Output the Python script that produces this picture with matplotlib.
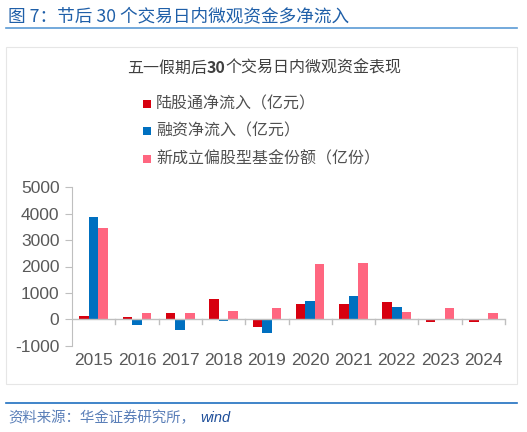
import matplotlib
matplotlib.use("Agg")
import matplotlib.pyplot as plt
import numpy as np
from matplotlib.patches import Rectangle
from matplotlib.lines import Line2D

years = ["2015", "2016", "2017", "2018", "2019", "2020", "2021", "2022", "2023", "2024"]
northbound = [125, 70, 230, 760, -280, 580, 580, 665, -90, -115]
margin = [3890, -215, -400, -80, -505, 705, 895, 455, -30, 10]
new_funds = [3455, 227, 227, 303, 428, 2085, 2120, 277, 440, 253]
series_names = ["陆股通净流入（亿元）", "融资净流入（亿元）", "新成立偏股型基金份额（亿份）"]
colors = ["#d7000f", "#0070c0", "#ff6680"]
yticks = [-1000, 0, 1000, 2000, 3000, 4000, 5000]

CJK = ["Noto Sans CJK SC", "DejaVu Sans"]
plt.rcParams['font.family'] = CJK

W, H = 527, 432
fig = plt.figure(figsize=(W / 100, H / 100), dpi=100)

def fx(px):
    return px / W

def fy(py):
    return 1 - py / H

# header title
fig.text(fx(8), fy(16), "图 7：节后 30 个交易日内微观资金多净流入", fontsize=12.7,
         color="#1f5fa8", va="center", ha="left", family=CJK)
fig.add_artist(Line2D([fx(6), fx(517)], [fy(28), fy(28)], color="#5b9bd5", lw=1.2))
# chart frame
fig.add_artist(Rectangle((fx(6), fy(384)), fx(511), fy(47) - fy(384), fill=False,
                         edgecolor="#e6e6e6", lw=0.8))
# bottom rule
fig.add_artist(Line2D([fx(6), fx(517)], [fy(403), fy(403)], color="#1f6fc0", lw=1.2))
fig.text(fx(8), fy(418), "资料来源：华金证券研究所，", fontsize=10.4, style="italic",
         color="#5a7fb8", va="center", ha="left", family=CJK)
fig.text(fx(200), fy(418), "wind", fontsize=10.5, style="italic",
         color="#1f4f9a", va="center", ha="left", family=["Liberation Sans"])

# chart title (pieces so only "30" is bold)
fig.canvas.draw()
renderer = fig.canvas.get_renderer()
pieces = [("五一假期后", "normal"), ("30", "bold"), ("个交易日内微观资金表现", "normal")]
cur = 127
for txt, wt in pieces:
    t = fig.text(fx(cur), fy(68), txt, fontsize=11.5, fontweight=wt, color="#404040",
                 va="center", ha="left", family=CJK)
    bb = t.get_window_extent(renderer=renderer)
    cur += bb.width

# legend
for i, (name, c) in enumerate(zip(series_names, colors)):
    yy = 104 + i * 27.3
    fig.add_artist(Rectangle((fx(143), fy(yy + 4)), fx(8), fy(yy - 4) - fy(yy + 4),
                             facecolor=c, edgecolor="none"))
    fig.text(fx(156), fy(yy), name, fontsize=11.5, color="#505050", va="center",
             ha="left", family=CJK)

# axes
ax = fig.add_axes([fx(72), fy(345.7), fx(505 - 72), fy(187.3) - fy(345.7)])
x = np.arange(len(years))
w = 0.22
for k, (vals, c) in enumerate(zip([northbound, margin, new_funds], colors)):
    ax.bar(x + (k - 1) * w, vals, width=w, color=c, edgecolor="none", zorder=3)

ax.set_xlim(-0.5, len(years) - 0.5)
ax.set_ylim(-1000, 5000)
ax.set_yticks(yticks)
ax.set_yticklabels([str(v) for v in yticks], family=["Liberation Sans"], fontsize=12.5,
                   color="#595959")
ax.set_xticks([])
for s in ["top", "right", "bottom"]:
    ax.spines[s].set_visible(False)
ax.spines["left"].set_color("#bfbfbf")
ax.tick_params(axis="y", length=5, color="#bfbfbf", pad=4)
ax.axhline(0, color="#bfbfbf", lw=1, zorder=4)
for b in np.arange(0.5, len(years) + 0.5, 1.0):
    ax.plot([b, b], [0, -190], color="#bfbfbf", lw=1, clip_on=False, zorder=4)
for i, yl in enumerate(years):
    ax.text(x[i], -1270, yl, ha="center", va="top", fontsize=12.5, color="#595959",
            family=["Liberation Sans"])

fig.savefig("out.png", dpi=100)
